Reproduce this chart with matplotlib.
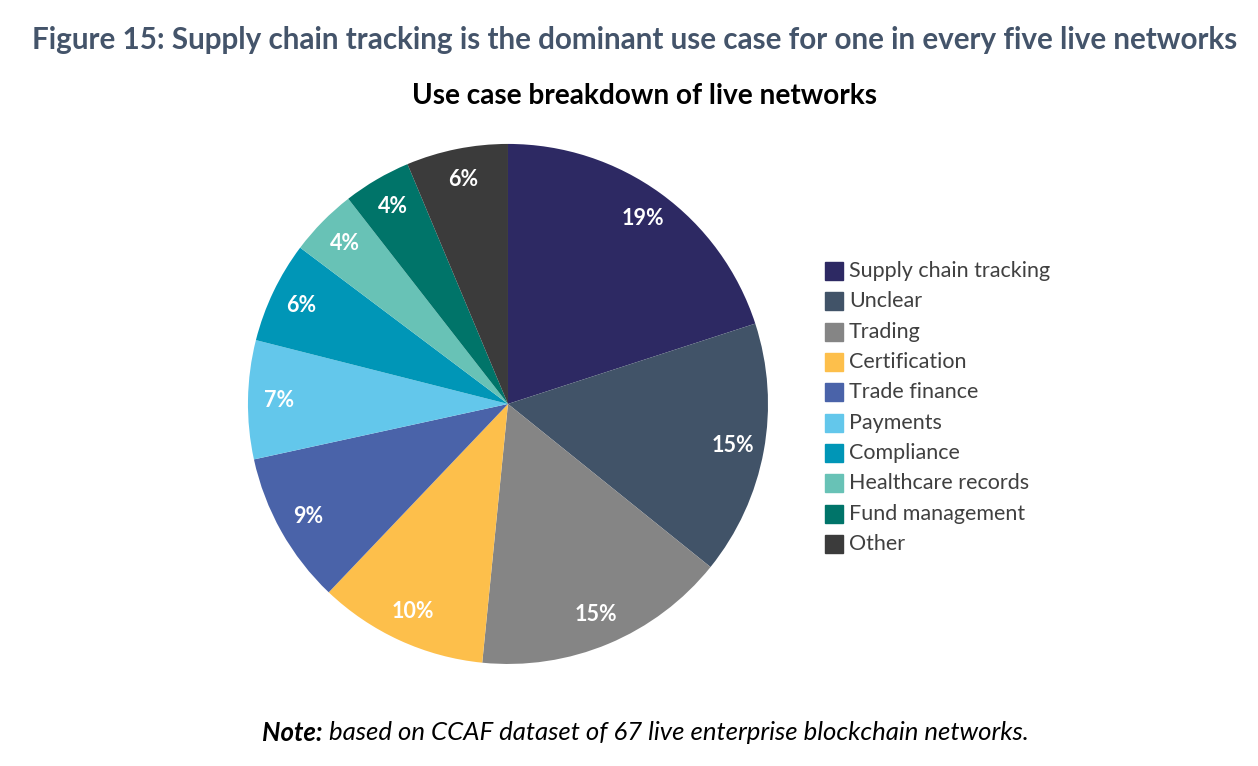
import matplotlib.pyplot as plt
from matplotlib.patches import Rectangle

plt.rcParams['font.family'] = ['Lato', 'DejaVu Sans']

categories = ['Supply chain tracking', 'Unclear', 'Trading', 'Certification',
              'Trade finance', 'Payments', 'Compliance', 'Healthcare records',
              'Fund management', 'Other']
shares = [19, 15, 15, 10, 9, 7, 6, 4, 4, 6]
colors = ['#2d2963', '#415368', '#858585', '#fdbf4b', '#4a63a9',
          '#63c7eb', '#0096b7', '#68c2b6', '#007469', '#3b3b3b']

total = sum(shares)

fig = plt.figure(figsize=(12.58, 7.66), dpi=100)

fig.text(635 / 1258, 1 - 40 / 766,
         'Figure 15: Supply chain tracking is the dominant use case for one in every five live networks',
         ha='center', va='center', fontsize=21.3, fontweight='bold', color='#44546a')
fig.text(644 / 1258, 1 - 96 / 766, 'Use case breakdown of live networks',
         ha='center', va='center', fontsize=20.2, fontweight='bold', color='black')

ax = fig.add_axes([0.1971, 0.1332, 0.4134, 0.6789])
wedges, texts, autotexts = ax.pie(
    shares, colors=colors, startangle=90, counterclock=False,
    autopct=lambda p: f'{p * total / 100:.0f}%', pctdistance=0.88,
    textprops=dict(color='white', fontsize=15.5, fontweight='bold'))
ax.set_aspect('equal')
ax.set_xlim(-1, 1)
ax.set_ylim(-1, 1)

# legend, drawn by hand to match spacing
x0, y0, step = 825 / 1258, 1 - 271 / 766, 30.33 / 766
sw, sh = 18 / 1258, 18 / 766
for i, (name, c) in enumerate(zip(categories, colors)):
    y = y0 - i * step
    fig.patches.append(Rectangle((x0, y - sh / 2), sw, sh, color=c,
                                 transform=fig.transFigure, figure=fig))
    fig.text(849 / 1258, y, name, ha='left', va='center', fontsize=15.5,
             color='#404040')

note_y = 1 - 733 / 766
t1 = fig.text(262 / 1258, note_y, 'Note:', ha='left', va='center', fontsize=18.5,
              fontweight='bold', fontstyle='italic', color='black')
fig.canvas.draw()
bb = t1.get_window_extent()
fig.text((bb.x1 + 6) / 1258, note_y, 'based on CCAF dataset of 67 live enterprise blockchain networks.',
         ha='left', va='center', fontsize=18.5, fontstyle='italic', color='black')

fig.savefig('out.png', dpi=100)
